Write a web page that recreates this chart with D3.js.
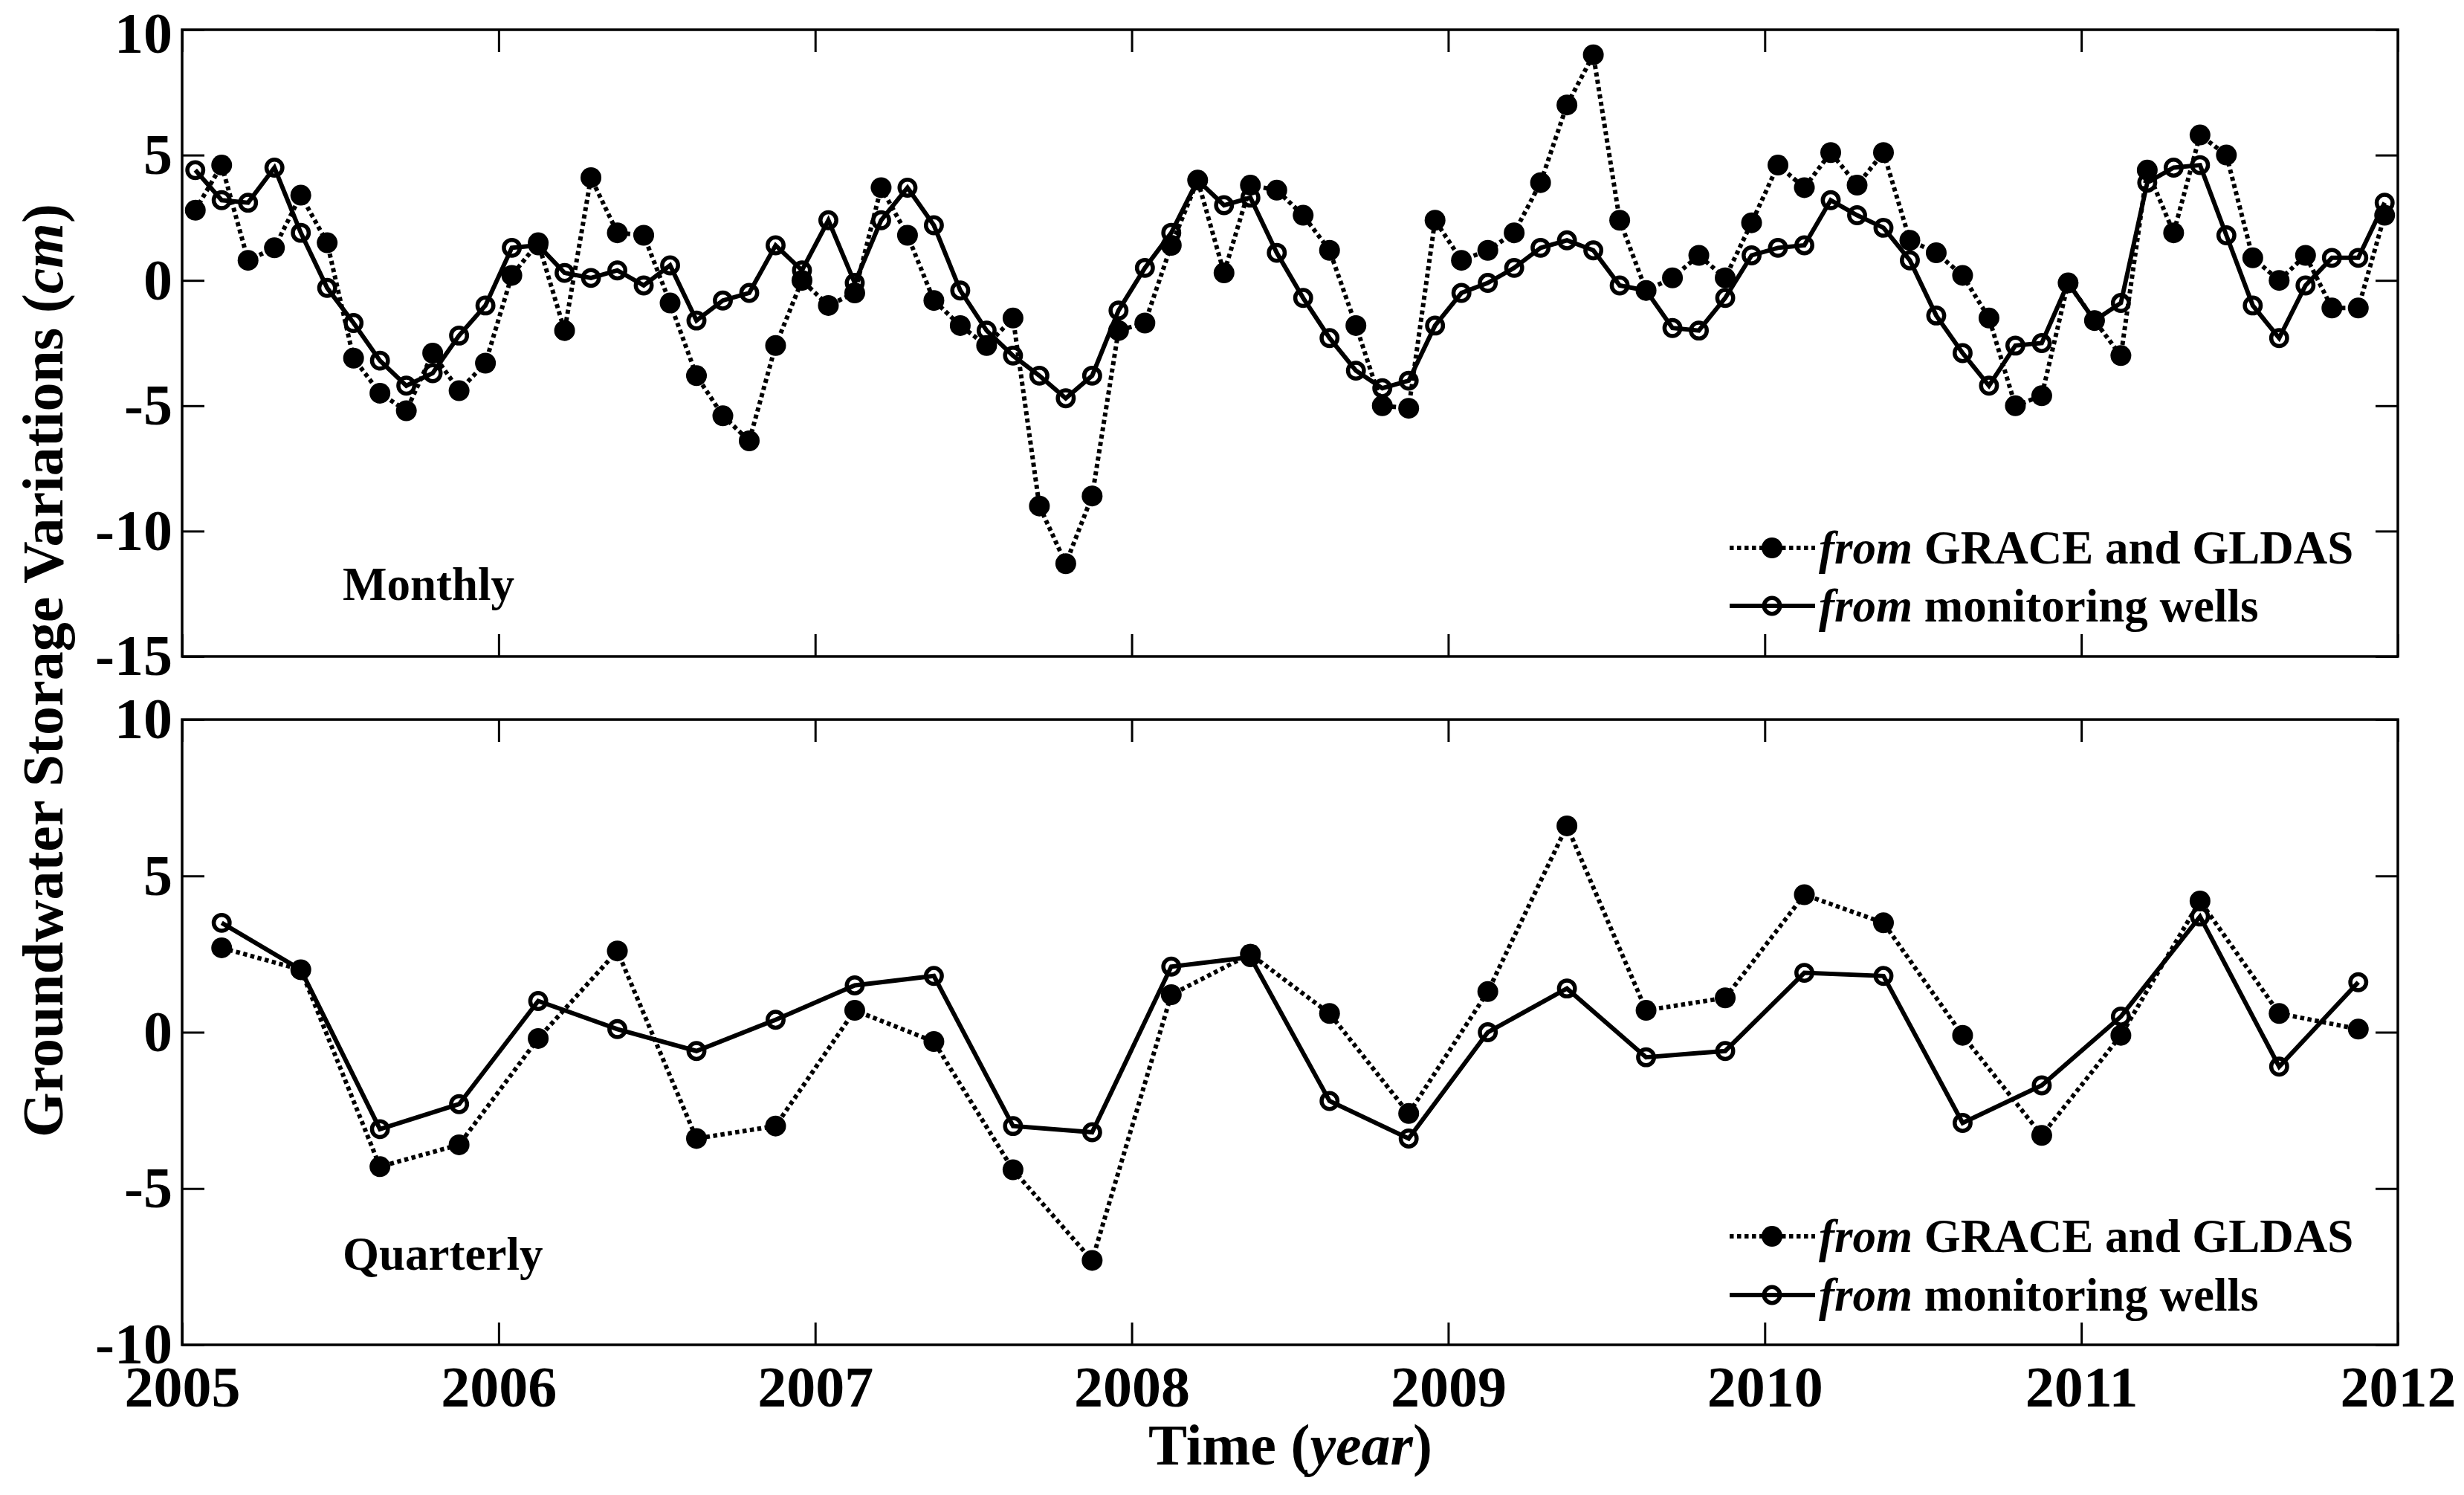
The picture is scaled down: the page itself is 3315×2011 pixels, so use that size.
<!DOCTYPE html>
<html>
<head>
<meta charset="utf-8">
<script src="https://cdn.jsdelivr.net/npm/d3@7/dist/d3.min.js"></script>
<style>
  html, body { margin: 0; padding: 0; background: #fff; }
  svg { display: block; }
</style>
</head>
<body>
<svg id="chart" width="3315" height="2011"></svg>
<script>
// ---------------- DATA ----------------
const startYear = 2005;
const endYear = 2012;
const xTickYears = [2005, 2006, 2007, 2008, 2009, 2010, 2011, 2012];
const yTicksMonthly = [10, 5, 0, -5, -10, -15];
const yTicksQuarterly = [10, 5, 0, -5, -10];

// Monthly series, Jan 2005 .. Dec 2011 (84 values)
const monthlyGrace = [
  2.8, 4.6, 0.8, 1.3, 3.4, 1.5, -3.1, -4.5, -5.2, -2.9, -4.4, -3.3,
  0.2, 1.5, -2.0, 4.1, 1.9, 1.8, -0.9, -3.8, -5.4, -6.4, -2.6, 0.0,
  -1.0, -0.5, 3.7, 1.8, -0.8, -1.8, -2.6, -1.5, -9.0, -11.3, -8.6, -2.0,
  -1.7, 1.4, 4.0, 0.3, 3.8, 3.6, 2.6, 1.2, -1.8, -5.0, -5.1, 2.4,
  0.8, 1.2, 1.9, 3.9, 7.0, 9.0, 2.4, -0.4, 0.1, 1.0, 0.1, 2.3,
  4.6, 3.7, 5.1, 3.8, 5.1, 1.6, 1.1, 0.2, -1.5, -5.0, -4.6, -0.1,
  -1.6, -3.0, 4.4, 1.9, 5.8, 5.0, 0.9, 0.0, 1.0, -1.1, -1.1, 2.6
];
const monthlyWells = [
  4.4, 3.2, 3.1, 4.5, 1.9, -0.3, -1.7, -3.2, -4.2, -3.7, -2.2, -1.0,
  1.3, 1.4, 0.3, 0.1, 0.4, -0.2, 0.6, -1.6, -0.8, -0.5, 1.4, 0.4,
  2.4, -0.1, 2.4, 3.7, 2.2, -0.4, -2.0, -3.0, -3.8, -4.7, -3.8, -1.2,
  0.5, 1.9, 4.0, 3.0, 3.3, 1.1, -0.7, -2.3, -3.6, -4.3, -4.0, -1.8,
  -0.5, -0.1, 0.5, 1.3, 1.6, 1.2, -0.2, -0.4, -1.9, -2.0, -0.7, 1.0,
  1.3, 1.4, 3.2, 2.6, 2.1, 0.8, -1.4, -2.9, -4.2, -2.6, -2.5, -0.1,
  -1.6, -0.9, 3.9, 4.5, 4.6, 1.8, -1.0, -2.3, -0.2, 0.9, 0.9, 3.1
];

// Quarterly series, Q1 2005 .. Q4 2011 (28 values)
const quarterlyGrace = [
  2.7, 2.0, -4.3, -3.6, -0.2, 2.6, -3.4, -3.0, 0.7, -0.3, -4.4, -7.3,
  1.2, 2.5, 0.6, -2.6, 1.3, 6.6, 0.7, 1.1, 4.4, 3.5, -0.1, -3.3,
  -0.1, 4.2, 0.6, 0.1
];
const quarterlyWells = [
  3.5, 2.0, -3.1, -2.3, 1.0, 0.1, -0.6, 0.4, 1.5, 1.8, -3.0, -3.2,
  2.1, 2.4, -2.2, -3.4, 0.0, 1.4, -0.8, -0.6, 1.9, 1.8, -2.9, -1.7,
  0.5, 3.7, -1.1, 1.6
];

const legendLabels = [
  { italic: "from", rest: " GRACE and GLDAS" },
  { italic: "from", rest: " monitoring wells" }
];

// time index (decimal years) for the categories
const monthTimes = monthlyGrace.map((_, i) => startYear + (i + 0.5) / 12);
const quarterTimes = quarterlyGrace.map((_, j) => startYear + (j * 3 + 1.5) / 12);

// ---------------- LAYOUT ----------------
const FONT = "'Liberation Serif', 'Times New Roman', Times, serif";
const svg = d3.select("#chart");
svg.append("rect").attr("width", 3315).attr("height", 2011).attr("fill", "#fff");

const left = 245, right = 3226;
const panels = [
  { top: 40, bottom: 883, domain: [-15, 10], ticks: yTicksMonthly,
    grace: monthlyGrace, wells: monthlyWells, times: monthTimes,
    label: "Monthly", labelY: 807, legendY: [737, 815], showX: false, shiftTop: 6 },
  { top: 968, bottom: 1809, domain: [-10, 10], ticks: yTicksQuarterly,
    grace: quarterlyGrace, wells: quarterlyWells, times: quarterTimes,
    label: "Quarterly", labelY: 1708, legendY: [1663, 1742], showX: true, shiftTop: 0 }
];

const x = d3.scaleLinear().domain([startYear, endYear]).range([left, right]);
const TICK = 30;
const LW = 6;
const DASH = "5.5,4.5";
const fmt = d => String(d);

function styleAxis(g, size) {
  g.attr("font-family", FONT).attr("font-size", size).attr("font-weight", "bold");
  g.select(".domain").remove();
  g.selectAll(".tick line").attr("stroke", "#000").attr("stroke-width", 3);
  g.selectAll(".tick text").attr("fill", "#000");
}

panels.forEach(p => {
  const y = d3.scaleLinear().domain(p.domain).range([p.bottom, p.top]);

  // axes
  const gl = svg.append("g").attr("transform", `translate(${left},0)`)
    .call(d3.axisLeft(y).tickValues(p.ticks).tickSizeInner(-TICK).tickSizeOuter(0)
      .tickPadding(13).tickFormat(fmt));
  styleAxis(gl, 78);
  gl.selectAll(".tick text").filter(d => d === p.domain[1])
    .attr("transform", `translate(0,${p.shiftTop})`);
  const gr = svg.append("g").attr("transform", `translate(${right},0)`)
    .call(d3.axisRight(y).tickValues(p.ticks).tickSizeInner(-TICK).tickSizeOuter(0).tickFormat(""));
  styleAxis(gr, 78);
  const gt = svg.append("g").attr("transform", `translate(0,${p.top})`)
    .call(d3.axisTop(x).tickValues(xTickYears).tickSizeInner(-TICK).tickSizeOuter(0).tickFormat(""));
  styleAxis(gt, 78);
  const gb = svg.append("g").attr("transform", `translate(0,${p.bottom})`)
    .call(d3.axisBottom(x).tickValues(xTickYears).tickSizeInner(-TICK).tickSizeOuter(0)
      .tickPadding(28).tickFormat(p.showX ? fmt : ""));
  styleAxis(gb, 78);

  // frame
  svg.append("rect")
    .attr("x", left).attr("y", p.top)
    .attr("width", right - left).attr("height", p.bottom - p.top)
    .attr("fill", "none").attr("stroke", "#000").attr("stroke-width", 3.5);

  const line = d3.line().x((d, i) => x(p.times[i])).y(d => y(d));

  // GRACE: dotted with filled dots
  svg.append("path").datum(p.grace)
    .attr("d", line).attr("fill", "none").attr("stroke", "#000")
    .attr("stroke-width", LW).attr("stroke-dasharray", DASH);
  svg.append("g").selectAll("circle").data(p.grace).join("circle")
    .attr("cx", (d, i) => x(p.times[i])).attr("cy", d => y(d))
    .attr("r", 14).attr("fill", "#000");

  // Wells: solid with open circles
  svg.append("path").datum(p.wells)
    .attr("d", line).attr("fill", "none").attr("stroke", "#000")
    .attr("stroke-width", LW);
  svg.append("g").selectAll("circle").data(p.wells).join("circle")
    .attr("cx", (d, i) => x(p.times[i])).attr("cy", d => y(d))
    .attr("r", 10.7).attr("fill", "none").attr("stroke", "#000").attr("stroke-width", 5.5);

  // panel label
  svg.append("text").attr("x", 461).attr("y", p.labelY)
    .attr("font-family", FONT).attr("font-size", 63).attr("font-weight", "bold")
    .text(p.label);

  // legend
  const lx0 = 2327, lx1 = 2442, lm = 2384, tx = 2447;
  legendLabels.forEach((lab, k) => {
    const ly = p.legendY[k];
    const seg = svg.append("line").attr("x1", lx0).attr("x2", lx1)
      .attr("y1", ly).attr("y2", ly).attr("stroke", "#000").attr("stroke-width", LW);
    if (k === 0) {
      seg.attr("stroke-dasharray", DASH);
      svg.append("circle").attr("cx", lm).attr("cy", ly).attr("r", 14).attr("fill", "#000");
    } else {
      svg.append("circle").attr("cx", lm).attr("cy", ly).attr("r", 10.7)
        .attr("fill", "#fff").attr("stroke", "#000").attr("stroke-width", 5.5);
      svg.append("line").attr("x1", lm - 10.7).attr("x2", lm + 10.7)
        .attr("y1", ly).attr("y2", ly).attr("stroke", "#000").attr("stroke-width", LW);
    }
    const t = svg.append("text").attr("x", tx).attr("y", ly + 21)
      .attr("font-family", FONT).attr("font-size", 63).attr("font-weight", "bold");
    t.append("tspan").attr("font-style", "italic").text(lab.italic);
    t.append("tspan").text(lab.rest);
  });
});

// axis titles
const xt = svg.append("text").attr("x", 1736).attr("y", 1970)
  .attr("text-anchor", "middle")
  .attr("font-family", FONT).attr("font-size", 78).attr("font-weight", "bold");
xt.append("tspan").text("Time (");
xt.append("tspan").attr("font-style", "italic").text("year");
xt.append("tspan").text(")");

const yt = svg.append("text")
  .attr("transform", "translate(84,902) rotate(-90)")
  .attr("text-anchor", "middle")
  .attr("font-family", FONT).attr("font-size", 78).attr("font-weight", "bold");
yt.append("tspan").text("Groundwater Storage Variations (");
yt.append("tspan").attr("font-style", "italic").text("cm");
yt.append("tspan").text(")");
</script>
</body>
</html>
